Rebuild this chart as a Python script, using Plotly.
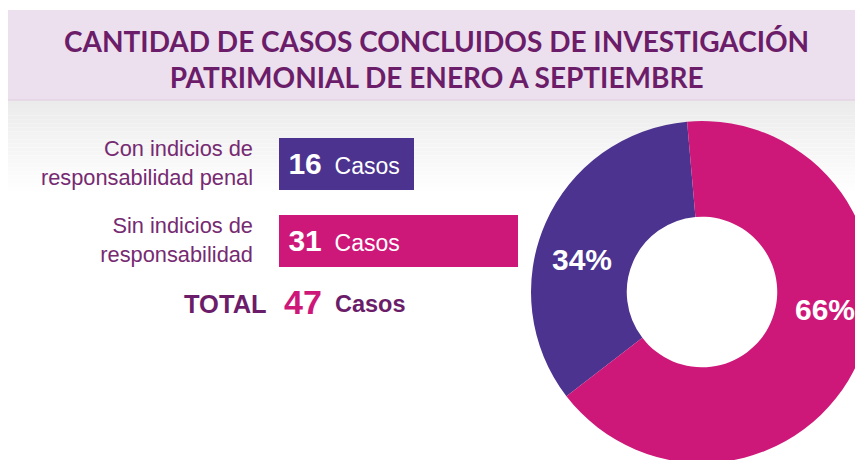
import math
import plotly.graph_objects as go

# ---- data ----
categories = ["Con indicios de<br>responsabilidad penal", "Sin indicios de<br>responsabilidad"]
cases = [16, 31]
title_lines = ["CANTIDAD DE CASOS CONCLUIDOS DE INVESTIGACIÓN", "PATRIMONIAL DE ENERO A SEPTIEMBRE"]
unit_label = "Casos"
total_label = "TOTAL"

# ---- style ----
PURPLE = "#4B338F"
MAGENTA = "#CE1879"
TITLE_C = "#6B1D69"
LABEL_C = "#762A72"
BAND = "#EDE0EE"
BAND_LINE = "#DECCE0"
ARIAL = "Arial, Liberation Sans, sans-serif"

W, H = 900, 500
OX, OY = 8, 8  # page offset of the figure inside the window


def px(sx):
    return (sx - OX) / W


def py(sy):
    return 1 - (sy - OY) / H


K = 6.93            # pixels per case
BAR_START_PX = 279  # left edge of the bars
LEAD = 24 / K       # bars start this far before zero

total = sum(cases)

fig = go.Figure()

fig.add_trace(go.Bar(
    orientation="h",
    y=categories,
    x=[v + LEAD for v in cases],
    base=-LEAD,
    customdata=cases,
    marker=dict(color=[PURPLE, MAGENTA], line=dict(width=0)),
    width=52 / 77,
    texttemplate="\u00a0<span style='font-size:30px'><b>%{customdata}</b></span>\u00a0\u00a0" + unit_label,
    textposition="inside",
    insidetextanchor="start",
    textangle=0,
    textfont=dict(family=ARIAL, size=23, color="white"),
    hoverinfo="skip",
    showlegend=False,
))

# purple slice ends a few degrees left of 12 o'clock
TOP_EDGE = -5
fig.add_trace(go.Pie(
    values=cases,
    labels=["Con indicios", "Sin indicios"],
    marker=dict(colors=[PURPLE, MAGENTA], line=dict(width=0)),
    hole=0.44,
    sort=False,
    direction="clockwise",
    rotation=TOP_EDGE - 360 * cases[0] / total,
    textinfo="none",
    domain=dict(x=[px(531), px(873)], y=[py(463), py(121)]),
    showlegend=False,
    hoverinfo="skip",
))

shapes = []
# title band
shapes.append(dict(type="rect", xref="paper", yref="paper", x0=px(8), x1=1, y0=py(100), y1=py(10),
                   fillcolor=BAND, line=dict(width=0), layer="below"))
# gray gradient below band
N = 24
g0, g1 = 100, 195
for i in range(N):
    c = int(round(235 + (255 - 235) * i / (N - 1)))
    shapes.append(dict(type="rect", xref="paper", yref="paper", x0=px(8), x1=1,
                       y0=py(g0 + (g1 - g0) * (i + 1) / N), y1=py(g0 + (g1 - g0) * i / N),
                       fillcolor=f"rgb({c},{c},{c})", line=dict(width=0), layer="below"))
shapes.append(dict(type="line", xref="paper", yref="paper", x0=px(8), x1=1, y0=py(100), y1=py(100),
                   line=dict(color=BAND_LINE, width=1), layer="below"))

annotations = []
annotations.append(dict(xref="paper", yref="paper", x=px(436), y=py(59), xanchor="center", yanchor="middle",
                        text="<b>" + "<br>".join(title_lines) + "</b>", showarrow=False,
                        font=dict(family="Lato, sans-serif", size=28, color=TITLE_C)))
# total row
annotations.append(dict(xref="paper", yref="paper", x=px(269), y=py(304), xanchor="right", yanchor="middle",
                        text="<b>" + total_label + "</b>", showarrow=False,
                        font=dict(family=ARIAL, size=25.5, color=TITLE_C)))
annotations.append(dict(xref="paper", yref="paper", x=px(282), y=py(302), xanchor="left", yanchor="middle",
                        text="<b>%d</b>" % total, showarrow=False,
                        font=dict(family=ARIAL, size=34, color=MAGENTA)))
annotations.append(dict(xref="paper", yref="paper", x=px(333), y=py(304), xanchor="left", yanchor="middle",
                        text="<b>" + unit_label + "</b>", showarrow=False,
                        font=dict(family=ARIAL, size=23.5, color=TITLE_C)))

# percentage labels on the donut
CX, CY, RT = 702, 292, 124
LABEL_ANGLES = [285, 98]
for v, a in zip(cases, LABEL_ANGLES):
    sx = CX + RT * math.sin(math.radians(a))
    sy = CY - RT * math.cos(math.radians(a))
    annotations.append(dict(xref="paper", yref="paper", x=px(sx), y=py(sy), xanchor="center", yanchor="middle",
                            text="<b>%d%%</b>" % round(100 * v / total), showarrow=False,
                            font=dict(family=ARIAL, size=30, color="white")))

fig.update_layout(
    width=W, height=H,
    margin=dict(l=0, r=0, t=0, b=0),
    paper_bgcolor="white", plot_bgcolor="rgba(0,0,0,0)",
    shapes=shapes, annotations=annotations,
    xaxis=dict(domain=[px(BAR_START_PX), 1], range=[-LEAD, (W + OX - BAR_START_PX) / K - LEAD],
               visible=False, fixedrange=True),
    yaxis=dict(domain=[py(278.5), py(124.5)], type="category", autorange="reversed",
               categoryorder="array", categoryarray=categories,
               showgrid=False, zeroline=False, showline=False, ticks="",
               ticklabelstandoff=25,
               tickfont=dict(family=ARIAL, size=21.8, color=LABEL_C)),
    bargap=0,
)

fig.write_html("out.html")
